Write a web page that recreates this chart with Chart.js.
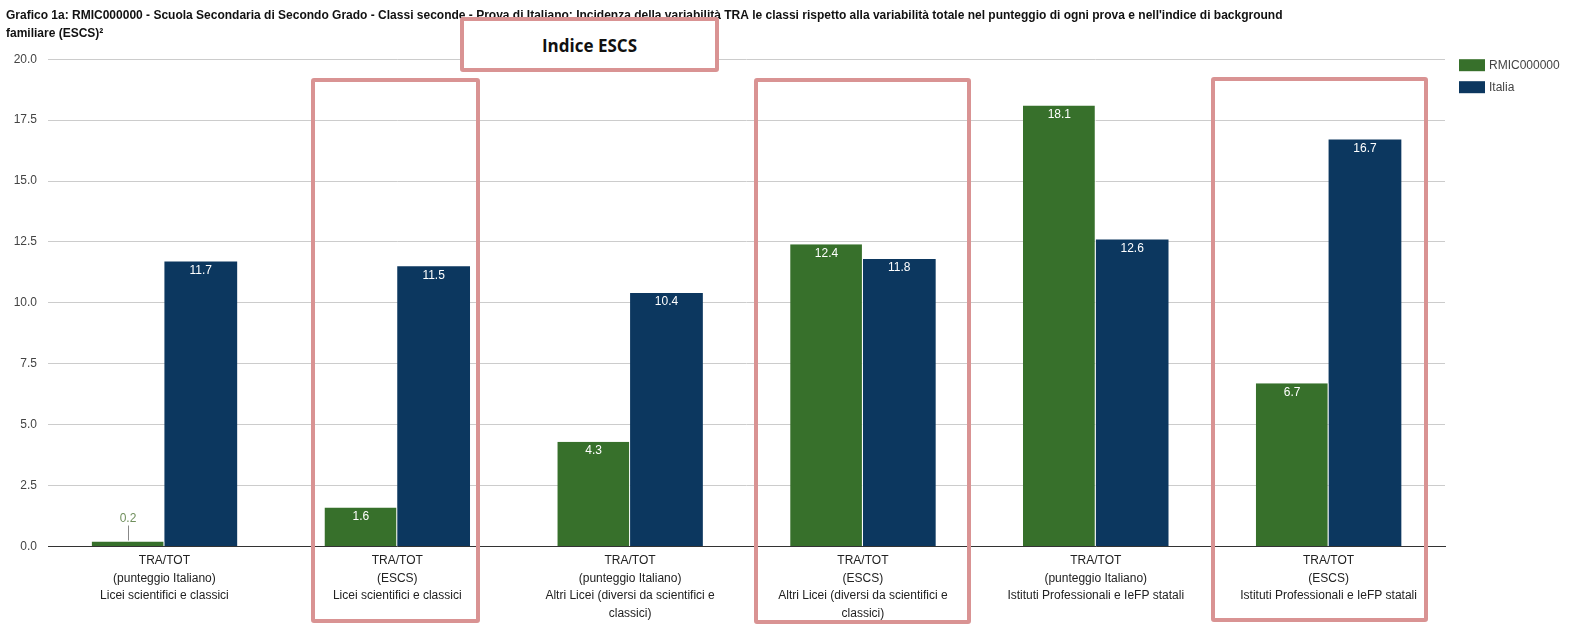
<!DOCTYPE html>
<html>
<head>
<meta charset="utf-8">
<script src="https://cdn.jsdelivr.net/npm/chart.js@4.4.1/dist/chart.umd.min.js"></script>
<style>
  html, body { margin: 0; padding: 0; background: #fff; }
  #wrap { position: relative; width: 1570px; height: 626px; }
  canvas { position: absolute; left: 0; top: 0; }
  .box { position: absolute; border: 4px solid #d99393; border-radius: 3px; box-sizing: border-box; }
  #escs { background: #fff; font: bold 17px "Open Sans", "Liberation Sans", sans-serif; color: #111;
          display: flex; align-items: center; justify-content: center; padding-top: 2px; }
</style>
</head>
<body>
<div id="wrap">
  <canvas id="chart" width="1570" height="626"></canvas>
  <div class="box" id="escs" style="left:460px; top:17px; width:259px; height:55px;">Indice ESCS</div>
  <div class="box" style="left:311px; top:78px; width:169px; height:545px;"></div>
  <div class="box" style="left:754px; top:78px; width:217px; height:546px;"></div>
  <div class="box" style="left:1211px; top:77px; width:217px; height:545px;"></div>
</div>
<script>
// categories (each label split into lines as in the picture)
const categories = [
  ['TRA/TOT', '(punteggio Italiano)', 'Licei scientifici e classici'],
  ['TRA/TOT', '(ESCS)', 'Licei scientifici e classici'],
  ['TRA/TOT', '(punteggio Italiano)', 'Altri Licei (diversi da scientifici e', 'classici)'],
  ['TRA/TOT', '(ESCS)', 'Altri Licei (diversi da scientifici e', 'classici)'],
  ['TRA/TOT', '(punteggio Italiano)', 'Istituti Professionali e IeFP statali'],
  ['TRA/TOT', '(ESCS)', 'Istituti Professionali e IeFP statali']
];
const schoolValues = [0.2, 1.6, 4.3, 12.4, 18.1, 6.7];
const italyValues = [11.7, 11.5, 10.4, 11.8, 12.6, 16.7];
const yTicks = [0, 2.5, 5, 7.5, 10, 12.5, 15, 17.5, 20];

const titleLines = [
  "Grafico 1a: RMIC000000 - Scuola Secondaria di Secondo Grado - Classi seconde - Prova di Italiano: Incidenza della variabilità TRA le classi rispetto alla variabilità totale nel punteggio di ogni prova e nell'indice di background",
  "familiare (ESCS)²"
];

const FONT = '"Liberation Sans", Arial, sans-serif';

// value labels on top of bars
const barLabels = {
  id: 'barLabels',
  afterDatasetsDraw(chart) {
    const ctx = chart.ctx;
    ctx.save();
    ctx.font = '12px ' + FONT;
    ctx.textAlign = 'center';
    ctx.textBaseline = 'middle';
    chart.data.datasets.forEach((ds, i) => {
      chart.getDatasetMeta(i).data.forEach((bar, j) => {
        const txt = ds.data[j].toFixed(1);
        const h = bar.base - bar.y;
        if (h > 22) {
          ctx.fillStyle = '#ffffff';
          ctx.fillText(txt, bar.x, bar.y + 9);
        } else {
          ctx.fillStyle = '#6f8f5c';
          ctx.fillText(txt, bar.x, bar.y - 23);
          ctx.strokeStyle = '#888';
          ctx.lineWidth = 1;
          ctx.beginPath();
          ctx.moveTo(Math.round(bar.x) + 0.5, bar.y - 1);
          ctx.lineTo(Math.round(bar.x) + 0.5, bar.y - 16);
          ctx.stroke();
        }
      });
    });
    ctx.restore();
  }
};

// legend on the right, aligned with the top of the plot
const sideLegend = {
  id: 'sideLegend',
  afterDraw(chart) {
    const ctx = chart.ctx;
    const x = chart.chartArea.right + 14;
    let y = chart.chartArea.top;
    ctx.save();
    ctx.font = '12px ' + FONT;
    ctx.textBaseline = 'middle';
    chart.data.datasets.forEach(ds => {
      ctx.fillStyle = ds.backgroundColor;
      ctx.fillRect(x, y, 26, 12);
      ctx.fillStyle = '#444';
      ctx.fillText(ds.label, x + 30, y + 6.5);
      y += 22;
    });
    ctx.restore();
  }
};

new Chart(document.getElementById('chart'), {
  type: 'bar',
  data: {
    labels: categories,
    datasets: [
      { label: 'RMIC000000', data: schoolValues, backgroundColor: '#37702b',
        borderColor: '#ffffff', borderWidth: { right: 1 }, borderSkipped: false },
      { label: 'Italia', data: italyValues, backgroundColor: '#0c375f' }
    ]
  },
  options: {
    responsive: false,
    animation: false,
    layout: { padding: { left: 6, right: 125, top: 0, bottom: 6 } },
    datasets: { bar: { categoryPercentage: 0.625, barPercentage: 1.0 } },
    plugins: {
      title: {
        display: true,
        text: titleLines,
        align: 'start',
        color: '#111',
        font: { family: FONT, size: 12, weight: 'bold', lineHeight: 1.55 },
        padding: { top: 6, bottom: 16 }
      },
      legend: { display: false },
      tooltip: { enabled: false }
    },
    scales: {
      x: {
        grid: { display: false },
        border: { color: '#333', width: 1 },
        ticks: {
          color: '#222', padding: -2, maxRotation: 0, autoSkip: false,
          font: { family: FONT, size: 12, lineHeight: 1.45 }
        }
      },
      y: {
        min: 0, max: 20,
        afterBuildTicks(axis) { axis.ticks = yTicks.map(v => ({ value: v })); },
        afterFit(axis) { axis.width = 42; },
        grid: { color: '#cccccc', drawTicks: false },
        border: { display: false },
        ticks: {
          color: '#444', padding: 11,
          font: { family: FONT, size: 12 },
          callback: v => Number(v).toFixed(1)
        }
      }
    }
  },
  plugins: [barLabels, sideLegend]
});
</script>
</body>
</html>
